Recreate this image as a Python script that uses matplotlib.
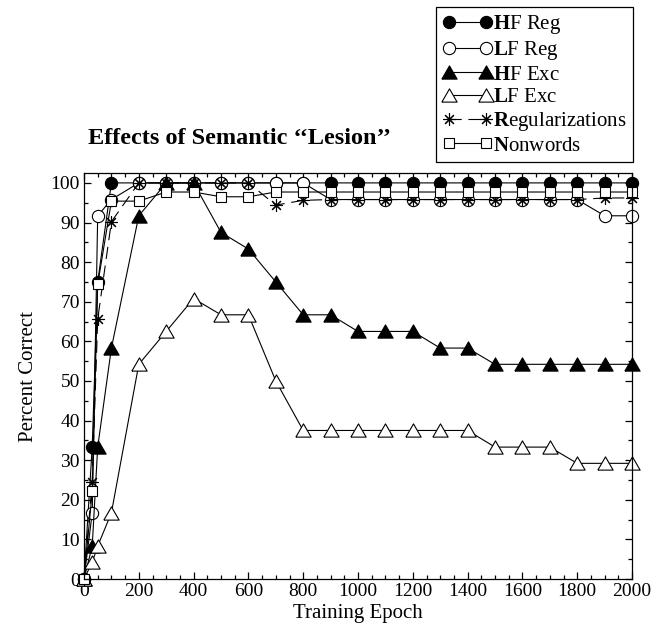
import matplotlib
matplotlib.use("Agg")
import matplotlib.pyplot as plt
from matplotlib.ticker import MultipleLocator

plt.rcParams['font.family'] = ['Liberation Serif', 'DejaVu Serif']
plt.rcParams['mathtext.fontset'] = 'custom'
plt.rcParams['mathtext.rm'] = 'Liberation Serif'
plt.rcParams['mathtext.bf'] = 'Liberation Serif:bold'

epochs = [0, 30, 50, 100, 200, 300, 400, 500, 600, 700, 800, 900, 1000,
          1100, 1200, 1300, 1400, 1500, 1600, 1700, 1800, 1900, 2000]

hf_reg = [0, 33.3, 75.0, 100, 100, 100, 100, 100, 100, 100, 100, 100, 100,
          100, 100, 100, 100, 100, 100, 100, 100, 100, 100]
lf_reg = [0, 16.7, 91.7, 95.8, 100, 100, 100, 100, 100, 100, 100, 95.8, 95.8,
          95.8, 95.8, 95.8, 95.8, 95.8, 95.8, 95.8, 95.8, 91.7, 91.7]
hf_exc = [0, 8.3, 33.3, 58.3, 91.7, 100, 100, 87.5, 83.3, 75.0, 66.7, 66.7, 62.5,
          62.5, 62.5, 58.3, 58.3, 54.2, 54.2, 54.2, 54.2, 54.2, 54.2]
lf_exc = [0, 4.2, 8.3, 16.7, 54.2, 62.5, 70.8, 66.7, 66.7, 50.0, 37.5, 37.5, 37.5,
          37.5, 37.5, 37.5, 37.5, 33.3, 33.3, 33.3, 29.2, 29.2, 29.2]
regul = [0, 24.6, 65.6, 90.2, 100, 100, 100, 100, 100, 94.4, 95.6, 95.8, 95.8,
         95.8, 95.8, 95.8, 95.8, 95.8, 95.8, 95.8, 95.8, 96.2, 96.2]
nonwords = [0, 22.1, 74.4, 95.4, 95.4, 97.7, 97.7, 96.5, 96.5, 97.7, 97.7, 97.7, 97.7,
            97.7, 97.7, 97.7, 97.7, 97.7, 97.7, 97.7, 97.7, 97.7, 97.7]

labels = [r'$\mathbf{H}$F Reg', r'$\mathbf{L}$F Reg', r'$\mathbf{H}$F Exc',
          r'$\mathbf{L}$F Exc', r'$\mathbf{R}$egularizations', r'$\mathbf{N}$onwords']

# wider, flatter triangle than matplotlib's default '^'
tri = [(-1, -0.866), (1, -0.866), (0, 0.866), (-1, -0.866)]

fig = plt.figure(figsize=(6.63, 6.33), dpi=100)
ax = fig.add_axes([84 / 663, 54 / 633, 548 / 663, 406 / 633])

kw = dict(color='black', lw=0.8, mew=0.8, clip_on=False)
ax.plot(epochs, hf_reg, marker='o', ms=8.8, mfc='black', label=labels[0], **kw)
ax.plot(epochs, lf_reg, marker='o', ms=8.8, mfc='white', label=labels[1], **kw)
ax.plot(epochs, hf_exc, marker=tri, ms=11, mfc='black', label=labels[2], **kw)
ax.plot(epochs, lf_exc, marker=tri, ms=11, mfc='white', label=labels[3], **kw)
ax.plot(epochs, regul, marker=(8, 2, 0), ms=9, ls=(0, (11, 6)), label=labels[4], **kw)
ax.plot(epochs, nonwords, marker='s', ms=7, mfc='white', label=labels[5], **kw)

ax.set_xlim(0, 2000)
ax.set_ylim(0, 102.5)
ax.xaxis.set_major_locator(MultipleLocator(200))
ax.xaxis.set_minor_locator(MultipleLocator(50))
ax.yaxis.set_major_locator(MultipleLocator(10))
ax.yaxis.set_minor_locator(MultipleLocator(5))
ax.tick_params(which='both', direction='in', top=True, right=True, labelsize=14, width=0.9)
ax.tick_params(which='major', length=5, pad=3)
ax.tick_params(which='minor', length=3)
for s in ax.spines.values():
    s.set_linewidth(0.9)

ax.set_xlabel('Training Epoch', fontsize=15, labelpad=3)
ax.set_ylabel('Percent Correct', fontsize=15, labelpad=9)

fig.text(88 / 663, 1 - 144 / 633, 'Effects of Semantic \u2018\u2018Lesion\u2019\u2019',
         fontsize=17.5, fontweight='bold', ha='left', va='baseline')

leg = fig.legend(loc='upper right', bbox_to_anchor=(633 / 663, 1 - 7 / 633),
                 fontsize=15, numpoints=2, handlelength=2.4, handletextpad=0.05,
                 labelspacing=0.14, borderpad=0.3, borderaxespad=0,
                 fancybox=False, framealpha=1, edgecolor='black')
leg.get_frame().set_linewidth(0.9)

fig.savefig('out.png', dpi=100)
